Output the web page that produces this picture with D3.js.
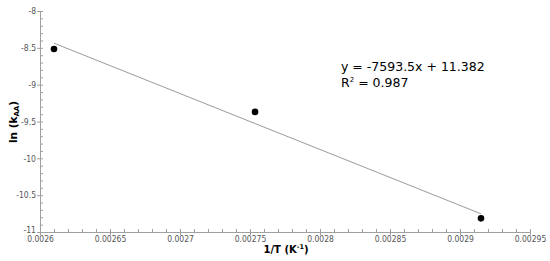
<!DOCTYPE html>
<html>
<head>
<meta charset="utf-8">
<script src="https://cdn.jsdelivr.net/npm/d3@7"></script>
<style>
  html, body { margin: 0; padding: 0; background: #fff; }
  svg { display: block; font-family: "DejaVu Sans", Verdana, sans-serif; }
</style>
</head>
<body>
<div id="chart"></div>
<script>
// Data
const invT = [0.00261, 0.0027536, 0.002915];
const lnK = [-8.515, -9.37, -10.815];
const xTicks = [0.0026, 0.00265, 0.0027, 0.00275, 0.0028, 0.00285, 0.0029, 0.00295];
const yTicks = [-8, -8.5, -9, -9.5, -10, -10.5, -11];
const trendSlope = -7593.5;
const trendIntercept = 11.382;

const W = 550, H = 261;
const margin = { top: 11, left: 40 };
const width = 530 - margin.left;
const height = 232 - margin.top;

const svg = d3.select("#chart").append("svg")
    .attr("width", W).attr("height", H);
const g = svg.append("g")
    .attr("transform", `translate(${margin.left},${margin.top})`);

const x = d3.scaleLinear().domain([0.0026, 0.00295]).range([0, width]);
const y = d3.scaleLinear().domain([-11, -8]).range([height, 0]);

const axisColor = "#a0a0a0";
const labelColor = "#555";

// minor ticks (inside)
g.append("g")
    .attr("transform", `translate(0,${height})`)
    .call(d3.axisTop(x).tickValues(d3.range(0, 36).map(i => 0.0026 + i * 0.00001)).tickSize(3).tickFormat(""))
    .call(a => a.select(".domain").remove());
g.append("g")
    .call(d3.axisRight(y).tickValues(d3.range(0, 31).map(i => -11 + i * 0.1)).tickSize(3).tickFormat(""))
    .call(a => a.select(".domain").remove());

// major axes
g.append("g")
    .attr("transform", `translate(0,${height})`)
    .call(d3.axisBottom(x).tickValues(xTicks).tickSize(3).tickSizeOuter(0).tickPadding(1)
        .tickFormat(d => String(+d.toPrecision(6))));
const gy = g.append("g")
    .call(d3.axisLeft(y).tickValues(yTicks).tickSize(3).tickSizeOuter(0).tickPadding(1)
        .tickFormat(d => String(d)));

g.selectAll(".domain, .tick line").attr("stroke", axisColor);
g.selectAll(".tick text")
    .attr("fill", labelColor)
    .style("font-size", "8.5px")
    .style("font-family", "'DejaVu Sans Condensed', 'DejaVu Sans', sans-serif");
// lift the bottom y label a touch so it does not sit on the first x label
gy.selectAll(".tick text").filter(d => d === -11).attr("dy", "0.1em");

// trendline
const x0 = d3.min(invT), x1 = d3.max(invT);
g.append("line")
    .attr("x1", x(x0)).attr("y1", y(trendSlope * x0 + trendIntercept))
    .attr("x2", x(x1)).attr("y2", y(trendSlope * x1 + trendIntercept))
    .attr("stroke", "#9a9a9a").attr("stroke-width", 1);

// points
g.selectAll("circle")
    .data(invT.map((v, i) => [v, lnK[i]]))
    .join("circle")
    .attr("cx", d => x(d[0]))
    .attr("cy", d => y(d[1]))
    .attr("r", 3.3)
    .attr("fill", "#000");

// equation
const eq = svg.append("text")
    .attr("x", 341).attr("y", 71)
    .attr("fill", "#000")
    .style("font-size", "12.5px");
eq.append("tspan").attr("x", 341).attr("dy", 0).text("y = -7593.5x + 11.382");
const r2 = eq.append("tspan").attr("x", 341).attr("dy", 16).text("R");
r2.append("tspan").attr("dy", -5).style("font-size", "7px").text("2");
eq.append("tspan").attr("dy", 5).text(" = 0.987");

// axis titles
const xt = svg.append("text")
    .attr("x", 286).attr("y", 253)
    .attr("text-anchor", "middle")
    .style("font-size", "10px").style("font-weight", "bold")
    .text("1/T (K");
xt.append("tspan").attr("dy", -4).style("font-size", "6.5px").text("-1");
xt.append("tspan").attr("dy", 4).text(")");

const yt = svg.append("text")
    .attr("transform", "translate(17,122) rotate(-90)")
    .attr("text-anchor", "middle")
    .style("font-size", "10.5px").style("font-weight", "bold")
    .text("ln (k");
yt.append("tspan").attr("dy", 2).style("font-size", "7px").text("AA");
yt.append("tspan").attr("dy", -2).text(")");
</script>
</body>
</html>
